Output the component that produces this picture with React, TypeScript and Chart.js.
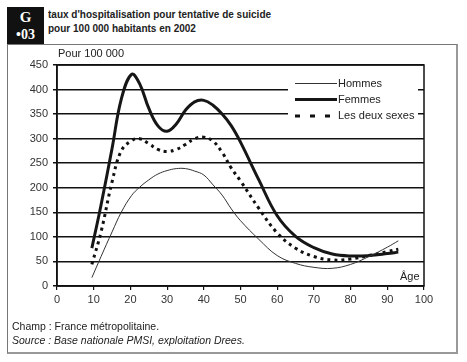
import React, { useEffect, useRef } from "react";
import { Chart, registerables } from "chart.js";

Chart.register(...registerables);

const ages = [9.5, 12, 15, 17.5, 20.3, 22.5, 25, 27.5, 30, 32.5, 35, 37.5, 40, 42.5, 45, 47.5, 50, 55, 60, 65, 70, 75, 80, 85, 90, 93];
const hommes = [17, 60, 110, 150, 184, 201, 216, 228, 235, 239, 239, 234, 226, 206, 185, 157, 133, 95, 62, 46, 38, 36, 44, 60, 79, 92];
const femmes = [77, 165, 280, 380, 431, 412, 362, 326, 315, 330, 358, 375, 378, 368, 350, 326, 293, 216, 143, 101, 78, 65, 61, 62, 66, 69];
const deuxSexes = [44, 110, 212, 275, 296, 300, 290, 278, 274, 278, 288, 300, 303, 295, 272, 240, 214, 158, 108, 77, 60, 53, 55, 62, 70, 75];
const seriesLabels = ["Hommes", "Femmes", "Les deux sexes"];
const xTicks = [0, 10, 20, 30, 40, 50, 60, 70, 80, 90, 100];
const yTicks = [0, 50, 100, 150, 200, 250, 300, 350, 400, 450];

const FONT = "'Liberation Sans', Arial, sans-serif";

const toPoints = (ys: number[]) => ages.map((a, i) => ({ x: a, y: ys[i] }));

const framePlugin = {
  id: "frameLegend",
  afterDatasetsDraw(chart: any) {
    const { ctx, chartArea } = chart;
    ctx.save();
    ctx.strokeStyle = "#111";
    ctx.lineWidth = 1.5;
    ctx.strokeRect(chartArea.left, chartArea.top, chartArea.right - chartArea.left, chartArea.bottom - chartArea.top);
    const lx = 288, ly = 77, lw = 130, lh = 46;
    ctx.fillStyle = "#fff";
    ctx.fillRect(lx, ly, lw, lh);
    const rows = [83.5, 99.5, 116];
    chart.data.datasets.forEach((ds: any, i: number) => {
      const y = rows[i];
      ctx.beginPath();
      ctx.strokeStyle = ds.borderColor;
      ctx.lineWidth = ds.borderWidth;
      ctx.setLineDash(ds.borderDash && ds.borderDash.length ? [5, 10] : []);
      ctx.moveTo(295, y);
      ctx.lineTo(337, y);
      ctx.stroke();
      ctx.setLineDash([]);
      ctx.fillStyle = "#222";
      ctx.font = `11px ${FONT}`;
      ctx.textBaseline = "middle";
      ctx.textAlign = "left";
      ctx.fillText(ds.label, 338, y);
    });
    ctx.restore();
  },
};

function ChartCanvas() {
  const ref = useRef<HTMLCanvasElement | null>(null);
  useEffect(() => {
    if (!ref.current) return;
    const common = { pointRadius: 0, tension: 0.4, fill: false };
    const chart = new Chart(ref.current, {
      type: "line",
      data: {
        datasets: [
          { label: seriesLabels[0], data: toPoints(hommes), borderColor: "#333", borderWidth: 1, ...common },
          { label: seriesLabels[1], data: toPoints(femmes), borderColor: "#161616", borderWidth: 3, ...common },
          { label: seriesLabels[2], data: toPoints(deuxSexes), borderColor: "#111", borderWidth: 3, borderDash: [3, 4], ...common },
        ],
      },
      options: {
        animation: false,
        responsive: false,
        maintainAspectRatio: false,
        layout: { padding: { left: 0, top: 65, right: 43, bottom: 0 } },
        plugins: { legend: { display: false }, tooltip: { enabled: false }, title: { display: false } },
        scales: {
          x: {
            type: "linear",
            min: 0,
            max: 100,
            afterFit: (s: any) => { s.height = 76; },
            afterBuildTicks: (s: any) => { s.ticks = xTicks.map((v) => ({ value: v })); },
            grid: { drawOnChartArea: false, drawTicks: true, tickLength: 4, color: "#111", lineWidth: 1.2 },
            border: { color: "#111", width: 1.5 },
            ticks: { font: { family: FONT, size: 11 }, color: "#333", padding: 3, maxRotation: 0 },
          },
          y: {
            type: "linear",
            min: 0,
            max: 450,
            afterFit: (s: any) => { s.width = 57; },
            afterBuildTicks: (s: any) => { s.ticks = yTicks.map((v) => ({ value: v })); },
            grid: { drawOnChartArea: true, drawTicks: true, tickLength: 4, color: "#111", lineWidth: 1.5 },
            border: { color: "#111", width: 1.5 },
            ticks: { font: { family: FONT, size: 11 }, color: "#333", padding: 5 },
          },
        },
      } as any,
      plugins: [framePlugin],
    });
    return () => chart.destroy();
  }, []);
  return <canvas ref={ref} width={467} height={362} style={{ position: "absolute", left: 0, top: 0, width: 467, height: 362 }} />;
}

export default function App() {
  const abs = (s: React.CSSProperties): React.CSSProperties => ({ position: "absolute", ...s });
  return (
    <div style={{ position: "fixed", left: 0, top: 0, width: 467, height: 362, background: "#fff", overflow: "hidden", fontFamily: FONT }}>
      <div style={abs({ left: 7, top: 44, width: 448, height: 307, border: "1px solid #777", borderRightWidth: 2, borderBottomWidth: 2, borderRightColor: "#999", borderBottomColor: "#999" })} />
      <div style={abs({ left: 7, top: 7, width: 37, height: 37, background: "#111", color: "#fff", fontFamily: "'Liberation Serif', 'DejaVu Serif', serif", fontWeight: "bold", textAlign: "center" })}>
        <div style={abs({ left: 0, top: 3, width: 37, fontSize: 15, lineHeight: "15px" })}>G</div>
        <div style={abs({ left: 0, top: 20, width: 37, fontSize: 14, lineHeight: "15px" })}>•03</div>
      </div>
      <div style={abs({ left: 48, top: 7, fontWeight: "bold", fontSize: 11.5, lineHeight: "14px", color: "#222", whiteSpace: "nowrap", transform: "scaleX(0.87)", transformOrigin: "left top" })}>
        taux d'hospitalisation pour tentative de suicide
        <br />
        pour 100 000 habitants en 2002
      </div>
      <ChartCanvas />
      <div style={abs({ left: 58, top: 47, fontSize: 11, color: "#222", whiteSpace: "nowrap" })}>Pour 100 000</div>
      <div style={abs({ left: 400, top: 270, fontSize: 11, color: "#222", whiteSpace: "nowrap" })}>Âge</div>
      <div style={abs({ left: 12, top: 319, fontSize: 10.5, lineHeight: "14px", color: "#222", whiteSpace: "nowrap" })}>
        Champ : France métropolitaine.
        <br />
        <i>Source : Base nationale PMSI, exploitation Drees.</i>
      </div>
    </div>
  );
}
